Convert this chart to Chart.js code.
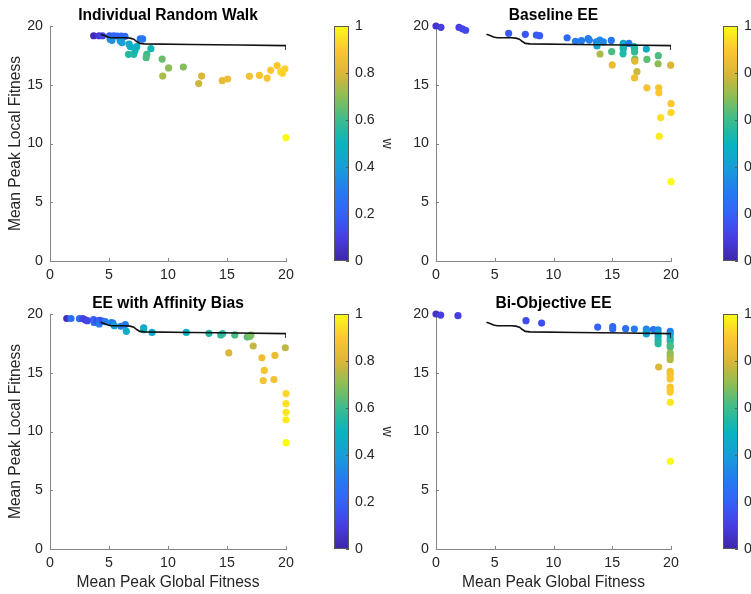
<!DOCTYPE html>
<html>
<head>
<meta charset="utf-8">
<script src="https://cdn.jsdelivr.net/npm/chart.js@4.4.0/dist/chart.umd.min.js"></script>
<style>
  html, body { margin: 0; padding: 0; background: #fff; overflow: hidden; }
  #fig { position: relative; width: 751px; height: 594px; overflow: hidden; }
  #fig canvas { position: absolute; }
</style>
</head>
<body>
<div id="fig">
  <canvas id="walk" width="300" height="295" style="left:0px;top:0px"></canvas>
  <canvas id="walk-cb" width="80" height="295" style="left:320px;top:0px"></canvas>
  <canvas id="baseline" width="300" height="295" style="left:386px;top:0px"></canvas>
  <canvas id="baseline-cb" width="80" height="295" style="left:709px;top:0px"></canvas>
  <canvas id="affinity" width="300" height="306" style="left:0px;top:288px"></canvas>
  <canvas id="affinity-cb" width="80" height="306" style="left:320px;top:288px"></canvas>
  <canvas id="biobj" width="300" height="306" style="left:386px;top:288px"></canvas>
  <canvas id="biobj-cb" width="80" height="306" style="left:709px;top:288px"></canvas>
</div>
<script>
// x = mean peak global fitness, y = mean peak local fitness, w = weight
const walkX = [3.7, 4.15, 4.45, 5.05, 5.4, 5.7, 6.05, 6.35, 5.1, 5.25, 5.95, 6.1, 6.7, 6.8, 6.65, 7.1, 7.2, 7.35, 7.65, 7.85,
               8.55, 8.2, 8.15, 9.5, 9.55, 10.05, 11.3, 12.6, 12.85, 14.6, 15.05, 16.9, 17.75, 18.4, 18.7, 19.25, 19.55, 19.7, 19.9, 20];
const walkY = [19.17, 19.17, 19.17, 19.17, 19.17, 19.15, 19.15, 19.12, 18.87, 18.78, 18.72, 18.58, 18.47, 18.25, 17.59, 17.59, 17.9, 18.24, 18.9, 18.9,
               18.07, 17.59, 17.3, 17.19, 15.74, 16.43, 16.51, 15.1, 15.74, 15.35, 15.49, 15.72, 15.8, 15.57, 16.23, 16.63, 16.11, 15.97, 16.36, 10.5];
const walkW = [0.03, 0.09, 0.12, 0.18, 0.2, 0.22, 0.2, 0.24, 0.33, 0.36, 0.38, 0.4, 0.45, 0.47, 0.56, 0.55, 0.52, 0.48, 0.26, 0.28,
               0.52, 0.6, 0.62, 0.66, 0.74, 0.7, 0.69, 0.78, 0.8, 0.84, 0.85, 0.87, 0.88, 0.88, 0.9, 0.9, 0.93, 0.93, 0.92, 1.0];

const baseX = [0, 0.42, 1.96, 2.24, 2.52, 6.18, 7.6, 8.54, 8.82, 11.16, 11.87, 12.38, 12.95, 13.05, 13.65, 13.95, 13.7, 14.24, 14.92, 13.96,
               14.95, 15.0, 15.94, 15.94, 15.94, 15.92, 16.42, 16.85, 16.9, 16.9, 16.92, 16.92, 17.1, 16.9, 17.9, 17.95, 17.95, 18.92, 18.9, 18.95,
               18.97, 19.12, 19.0, 19.97, 20, 20, 20];
const baseY = [20.0, 19.89, 19.88, 19.76, 19.64, 19.38, 19.29, 19.23, 19.18, 19.0, 18.7, 18.75, 18.92, 18.8, 18.66, 18.81, 18.31, 18.65, 18.77, 17.62,
               17.82, 16.69, 18.52, 18.2, 18.05, 17.63, 18.52, 18.24, 18.08, 17.79, 17.18, 17.0, 16.11, 15.58, 18.04, 17.16, 14.74, 17.48, 16.79, 14.74,
               14.31, 12.21, 10.62, 16.67, 13.39, 12.63, 6.75];
const baseW = [0.06, 0.1, 0.1, 0.12, 0.12, 0.18, 0.17, 0.18, 0.18, 0.22, 0.3, 0.3, 0.28, 0.32, 0.33, 0.34, 0.43, 0.34, 0.28, 0.74,
               0.62, 0.85, 0.45, 0.5, 0.53, 0.55, 0.28, 0.5, 0.55, 0.58, 0.68, 0.82, 0.78, 0.86, 0.46, 0.64, 0.88, 0.62, 0.7, 0.88,
               0.9, 0.95, 0.97, 0.8, 0.9, 0.93, 1.0];

const affX = [1.42, 1.78, 2.5, 2.78, 2.98, 3.17, 3.69, 3.74, 3.97, 4.2, 4.17, 4.43, 4.68, 5.19, 5.33, 5.45, 6.01, 6.38, 6.47, 7.94,
              7.94, 8.65, 11.55, 13.47, 14.47, 14.62, 15.66, 16.71, 16.9, 17.02, 17.22, 15.15, 17.96, 18.16, 18.07, 19.06, 18.98, 19.94, 20, 20,
              20, 20, 20];
const affY = [19.62, 19.62, 19.6, 19.6, 19.51, 19.43, 19.53, 19.28, 19.4, 19.46, 19.15, 19.4, 19.35, 19.26, 19.22, 19.0, 18.96, 19.1, 18.53, 18.83,
              18.66, 18.43, 18.43, 18.36, 18.22, 18.33, 18.22, 18.04, 18.09, 18.2, 17.28, 16.7, 16.28, 15.2, 14.34, 16.48, 14.42, 17.13, 13.23, 12.37,
              11.63, 11.0, 9.05];
const affW = [0.04, 0.25, 0.25, 0.12, 0.1, 0.12, 0.2, 0.25, 0.14, 0.18, 0.3, 0.15, 0.3, 0.35, 0.3, 0.4, 0.32, 0.3, 0.47, 0.45,
              0.48, 0.47, 0.5, 0.55, 0.58, 0.57, 0.62, 0.64, 0.66, 0.68, 0.77, 0.8, 0.85, 0.88, 0.88, 0.84, 0.87, 0.76, 0.93, 0.95,
              0.96, 0.97, 1.0];

const biX = [0, 0.4, 1.87, 7.66, 8.99, 13.76, 15.04, 15.04, 16.14, 16.88, 17.9, 17.9, 17.9, 18.5, 18.9, 18.9, 18.9, 18.9, 18.9, 18.95,
             19.93, 19.93, 19.93, 19.93, 19.93, 19.93, 19.93, 19.93, 19.93, 19.93, 19.93, 19.93, 19.93, 19.93, 19.93, 19.93, 19.95, 19.95];
const biY = [20.0, 19.91, 19.86, 19.43, 19.23, 18.89, 18.92, 18.72, 18.75, 18.72, 18.72, 18.52, 18.3, 18.68, 18.66, 18.38, 18.09, 17.75, 17.47, 15.49,
             18.52, 18.24, 17.9, 17.67, 17.33, 17.19, 16.68, 16.39, 16.11, 15.11, 14.92, 14.64, 14.47, 13.79, 13.56, 13.36, 12.48, 7.46];
const biW = [0.05, 0.1, 0.1, 0.14, 0.15, 0.2, 0.22, 0.24, 0.25, 0.3, 0.32, 0.36, 0.42, 0.26, 0.33, 0.42, 0.48, 0.53, 0.56, 0.8,
             0.3, 0.4, 0.48, 0.55, 0.6, 0.62, 0.7, 0.72, 0.75, 0.86, 0.87, 0.88, 0.89, 0.89, 0.9, 0.91, 0.96, 1.0];

// reference front (same in every panel)
const frontX = [4.3, 4.6, 4.9, 5.2, 6.4, 6.8, 7.1, 7.35, 7.6, 8.0, 12, 16, 20, 20];
const frontY = [19.3, 19.2, 19.07, 19.0, 19.0, 18.97, 18.88, 18.68, 18.52, 18.48, 18.43, 18.38, 18.33, 17.95];

const axisTicks = [0, 5, 10, 15, 20];
const cbTicks = [0, 0.2, 0.4, 0.6, 0.8, 1];

const textColor = '#262626';
const axisGrey = '#858585';
Chart.defaults.font.family = '"Liberation Sans", Arial, Helvetica, sans-serif';
Chart.defaults.color = textColor;

// parula-like colormap stops: [position, r, g, b]
const parulaStops = [
  [0.00, 62, 38, 168], [0.10, 71, 62, 226], [0.20, 52, 98, 250], [0.30, 36, 124, 240],
  [0.40, 23, 158, 215], [0.50, 8, 180, 190], [0.60, 60, 188, 140], [0.70, 140, 190, 85],
  [0.80, 220, 182, 55], [0.90, 252, 198, 50], [1.00, 249, 251, 21]
];

function parula(w) {
  w = Math.max(0, Math.min(1, w));
  for (let i = 1; i < parulaStops.length; i++) {
    const a = parulaStops[i - 1], b = parulaStops[i];
    if (w <= b[0]) {
      const t = (w - a[0]) / (b[0] - a[0]);
      const c = [1, 2, 3].map(k => Math.round(a[k] + t * (b[k] - a[k])));
      return `rgb(${c[0]},${c[1]},${c[2]})`;
    }
  }
  return 'rgb(249,251,21)';
}

// short tick marks pointing into the plot
const inwardTicks = {
  id: 'inwardTicks',
  beforeDatasetsDraw(chart) {
    const {ctx, chartArea: a, scales: {x, y}} = chart;
    ctx.save();
    ctx.strokeStyle = axisGrey;
    ctx.lineWidth = 1;
    x.ticks.forEach(t => {
      const px = Math.round(x.getPixelForValue(t.value)) + 0.5;
      ctx.beginPath(); ctx.moveTo(px, a.bottom); ctx.lineTo(px, a.bottom - 3); ctx.stroke();
    });
    y.ticks.forEach(t => {
      const py = Math.round(y.getPixelForValue(t.value)) + 0.5;
      ctx.beginPath(); ctx.moveTo(a.left, py); ctx.lineTo(a.left + 3, py); ctx.stroke();
    });
    ctx.restore();
  }
};

const colorbarFill = {
  id: 'colorbarFill',
  beforeDatasetsDraw(chart) {
    const {ctx, chartArea: a} = chart;
    const ys = chart.scales.y;
    const grad = ctx.createLinearGradient(0, a.bottom, 0, a.top);
    parulaStops.forEach(s => grad.addColorStop(s[0], `rgb(${s[1]},${s[2]},${s[3]})`));
    ctx.save();
    ctx.fillStyle = grad;
    ctx.fillRect(a.left, a.top, a.width, a.height);
    ctx.strokeStyle = '#5a5a5a';
    ctx.lineWidth = 1;
    ctx.strokeRect(a.left + 0.5, a.top + 0.5, a.width - 1, a.height - 1);
    ys.ticks.forEach(t => {
      const py = Math.round(ys.getPixelForValue(t.value)) + 0.5;
      ctx.beginPath(); ctx.moveTo(a.right - 3, py); ctx.lineTo(a.right, py); ctx.stroke();
    });
    ctx.restore();
  }
};

function makeScatter(id, title, xs, ys, ws, leftCol, bottomRow) {
  const points = xs.map((x, i) => ({x: x, y: ys[i]}));
  const front = frontX.map((x, i) => ({x: x, y: frontY[i]}));
  new Chart(document.getElementById(id), {
    type: 'scatter',
    data: {
      datasets: [
        {
          data: front,
          showLine: true,
          borderColor: '#111',
          borderWidth: 1.6,
          pointRadius: 0,
          tension: 0,
          order: 0
        },
        {
          data: points,
          pointRadius: 3.6,
          pointBorderWidth: 0,
          pointBackgroundColor: ws.map(parula),
          clip: false,
          order: 1
        }
      ]
    },
    options: {
      responsive: false,
      animation: false,
      layout: { padding: { left: 0, right: leftCol ? 14 : 15, top: 0, bottom: 0 } },
      plugins: {
        legend: { display: false },
        tooltip: { enabled: false },
        title: {
          display: true,
          text: title,
          fullSize: false,
          color: '#000',
          font: { size: 15.6, weight: 'bold' },
          padding: { top: 6.3, bottom: 1 }
        }
      },
      scales: {
        x: {
          type: 'linear', min: 0, max: 20,
          afterBuildTicks: s => { s.ticks = axisTicks.map(v => ({value: v})); },
          afterFit: s => { s.height = bottomRow ? 45 : 34; },
          ticks: { font: { size: 14.2 }, padding: 6, color: textColor },
          grid: { display: false, drawTicks: false },
          border: { display: true, color: axisGrey, width: 1 },
          title: {
            display: bottomRow,
            text: 'Mean Peak Global Fitness',
            font: { size: 15.6 },
            color: textColor,
            padding: { top: 0, bottom: 2 }
          }
        },
        y: {
          type: 'linear', min: 0, max: 20,
          afterBuildTicks: s => { s.ticks = axisTicks.map(v => ({value: v})); },
          afterFit: s => { s.width = 50; },
          ticks: { font: { size: 14.2 }, padding: 7, color: textColor },
          grid: { display: false, drawTicks: false },
          border: { display: true, color: axisGrey, width: 1 },
          title: {
            display: leftCol,
            text: 'Mean Peak Local Fitness',
            font: { size: 15.6 },
            color: textColor,
            padding: { top: 6, bottom: 0 }
          }
        }
      }
    },
    plugins: [inwardTicks]
  });
}

function makeColorbar(id, bottomPad) {
  new Chart(document.getElementById(id), {
    type: 'scatter',
    data: { datasets: [] },
    options: {
      responsive: false,
      animation: false,
      layout: { padding: { left: 14, right: 0, top: 26, bottom: bottomPad } },
      plugins: { legend: { display: false }, tooltip: { enabled: false } },
      scales: {
        x: { display: false, min: 0, max: 1 },
        y: {
          position: 'right',
          min: 0, max: 1,
          afterBuildTicks: s => { s.ticks = cbTicks.map(v => ({value: v})); },
          afterFit: s => { s.width = 51; },
          ticks: { font: { size: 14.2 }, padding: 6, color: textColor, callback: v => String(+v.toFixed(1)) },
          grid: { display: false, drawTicks: false },
          border: { display: false },
          title: { display: true, text: 'w', font: { size: 14.2 }, color: textColor, padding: { top: 5, bottom: 0 } }
        }
      }
    },
    plugins: [colorbarFill]
  });
}

makeScatter('walk', 'Individual Random Walk', walkX, walkY, walkW, true, false);
makeScatter('baseline', 'Baseline EE', baseX, baseY, baseW, false, false);
makeScatter('affinity', 'EE with Affinity Bias', affX, affY, affW, true, true);
makeScatter('biobj', 'Bi-Objective EE', biX, biY, biW, false, true);

makeColorbar('walk-cb', 34);
makeColorbar('baseline-cb', 34);
makeColorbar('affinity-cb', 45);
makeColorbar('biobj-cb', 45);
</script>
</body>
</html>
